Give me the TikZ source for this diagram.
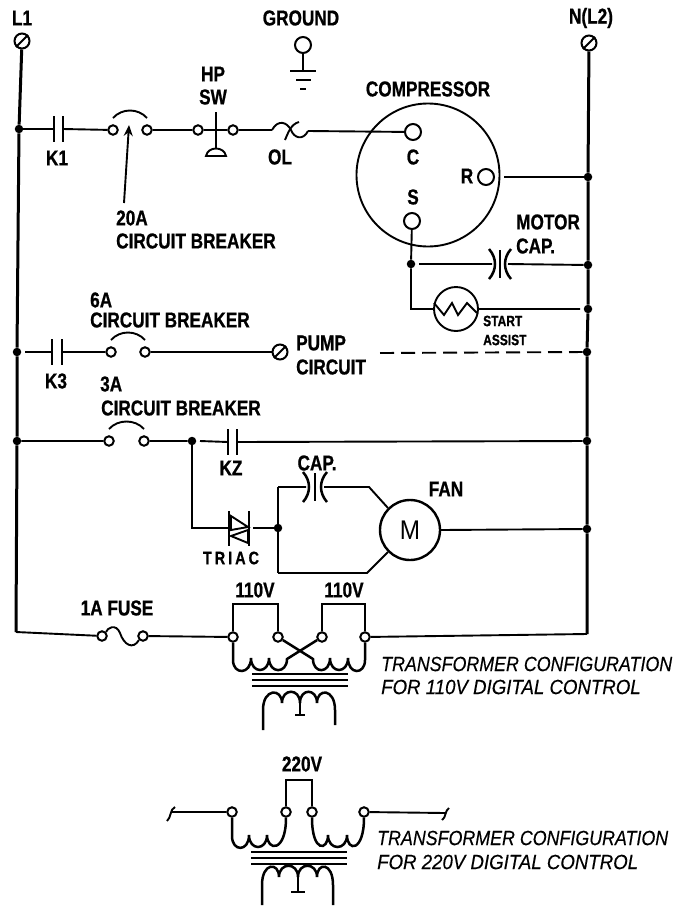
\documentclass[tikz,border=0pt]{standalone}
\usepackage{fontspec}
\setmainfont{Liberation Sans}
\newfontfamily\lblfamily[FakeStretch=0.80,FakeBold=0.8]{Liberation Sans Bold}
\newfontfamily\notefamily[FakeStretch=0.87,FakeBold=0.3]{Liberation Sans Italic}
\newfontfamily\widefamily[FakeStretch=0.91,FakeBold=0.3]{Liberation Sans Italic}
\newfontfamily\motorfamily[FakeStretch=0.9]{Liberation Sans}
\usetikzlibrary{calc,arrows.meta}
\tikzset{
    wire/.style={line width=1.9pt},
    rail/.style={line width=3pt},
    plate/.style={line width=2.5pt},
    term/.style={circle,draw,line width=2pt,fill=white,minimum size=9.5pt,inner sep=0pt},
    bigterm/.style={term,minimum size=15pt},
    dot/.style={circle,fill,minimum size=8.5pt,inner sep=0pt},
    lbl/.style={font=\lblfamily\fontsize{21.5}{24}\selectfont,inner sep=0pt},
    note/.style={font=\notefamily\fontsize{20.5}{22}\selectfont,inner sep=0pt,anchor=west},
    widenote/.style={note,font=\widefamily\fontsize{20.5}{22}\selectfont}
}
\newcommand{\breaker}[2]{\draw[wire] ($(#1)+(0,-12)$) .. controls +(9,-10) and +(-9,-10) .. ($(#2)+(0,-12)$);}
\newcommand{\contact}[4]{
    \coordinate (#1a) at (#2,#4);
    \coordinate (#1b) at (#3,#4);
    \draw[plate] (#2,#4-13) -- (#2,#4+13);
    \draw[plate] (#3,#4-13) -- (#3,#4+13);
}
\newcommand{\polar}[4]{
    \coordinate (#1a) at (#2,#4);
    \coordinate (#1b) at (#3,#4);
    \pgfmathsetmacro{\midx}{(#2+#3)/2}
    \draw[plate] (\midx,#4-14) -- (\midx,#4+14);
    \draw[plate] (#2-3,#4-15) .. controls (#2+5,#4-6) and (#2+5,#4+6) .. (#2-3,#4+15);
    \draw[plate] (#3+3,#4-15) .. controls (#3-5,#4-6) and (#3-5,#4+6) .. (#3+3,#4+15);
}
\begin{document}
\begin{tikzpicture}[x=1pt,y=-1pt]
    \useasboundingbox (0,0) rectangle (673,908);
    \fill[white] (0,0) rectangle (673,908);
    % rails
    \node[bigterm] (l1) at (22,41) {};
    \node[bigterm] (l2) at (589,43) {};
    \draw (l1.south west) [wire] -- (l1.north east);
    \draw (l2.south west) [wire] -- (l2.north east);
    \node[lbl] (l1lbl) at (22,18) {L1};
    \node[lbl] (l2lbl) at (591,18) {N(L2)};
    \node[dot] (da) at (19,129) {};
    \node[dot] (db) at (17,352) {};
    \node[dot] (dc) at (17,441) {};
    \coordinate (dd) at (16,632);
    \node[dot] (ra) at (588,177) {};
    \node[dot] (rb) at (588,265) {};
    \node[dot] (rc) at (588,309) {};
    \node[dot] (rd) at (587,352) {};
    \node[dot] (re) at (587,441) {};
    \node[dot] (rf) at (587,529) {};
    \coordinate (rg) at (587,634);
    \draw[rail] (l1) -- (da) -- (db) -- (dc) -- (dd);
    \draw[rail] (l2) -- (ra) -- (rb) -- (rc) -- (rd) -- (re) -- (rf) -- (rg);
    % ground
    \node[lbl] (gndlbl) at (301,18) {GROUND};
    \node[term,minimum size=16pt] (gnd) at (303,45) {};
    \coordinate (gndb) at (303,71);
    \draw[wire] (gnd) -- (gndb);
    \draw[plate] (290,71) -- (316,71);
    \draw[plate] (296,80) -- (311,80);
    \draw[plate] (300,89) -- (306,89);
    % compressor line
    \contact{ka}{54}{63}{129}
    \node[lbl] (kalbl) at (57,158) {K1};
    \node[term] (cba) at (113,130) {};
    \node[term] (cbb) at (147,130) {};
    \breaker{cba}{cbb}
    \node[term] (hpa) at (198,130) {};
    \node[term] (hpb) at (233,130) {};
    \coordinate (ola) at (272,130);
    \coordinate (olb) at (308,131);
    \draw[wire] (da) -- (kaa);
    \draw[wire] (kab) -- (cba);
    \draw[wire] (cbb) -- (hpa);
    \draw[wire] (hpa) -- (hpb);
    \draw[wire] (hpb) -- (ola);
    \draw[wire] (216,112) -- (216,150);
    \draw[wire,fill=white] (206,156) .. controls (208,146) and (224,146) .. (226,156) -- cycle;
    \draw[wire] (ola) .. controls (278,119) and (287,122) .. (291,130) .. controls (294,138) and (303,141) .. (olb);
    \draw[wire] (299,122) .. controls (291,124) and (288,133) .. (285,140);
    \node[lbl] (hplbl) at (213,74) {HP};
    \node[lbl] (swlbl) at (213,97) {SW};
    \node[lbl] (ollbl) at (280,157) {OL};
    \node[lbl,anchor=west] (cbalbl) at (116,218) {20A};
    \node[lbl,anchor=west] (cbblbl) at (116,241) {CIRCUIT BREAKER};
    \coordinate (cbtip) at (129,125);
    \coordinate (cbtail) at (124,203);
    \draw[wire,-{Stealth[length=11pt,width=9pt]}] (cbtail) -- (cbtip);
    % compressor
    \node[circle,draw,wire,minimum size=143pt,inner sep=0pt] (comp) at (428,175) {};
    \node[lbl] (complbl) at (428,89) {COMPRESSOR};
    \node[term,minimum size=16pt] (cc) at (413,132) {};
    \node[term,minimum size=16pt] (cr) at (486,177) {};
    \node[term,minimum size=16pt] (cs) at (412,221) {};
    \node[lbl] (cclbl) at (413,157) {C};
    \node[lbl] (crlbl) at (467,176) {R};
    \node[lbl] (cslbl) at (413,197) {S};
    \draw[wire] (olb) -- (cc);
    \coordinate (crout) at (504,177);
    \draw[wire] (crout) -- (ra);
    \node[dot] (sa) at (411,264) {};
    \coordinate (sb) at (411,309);
    \node[circle,draw,wire,minimum size=44pt,inner sep=0pt] (assist) at (456,309) {};
    \coordinate (sc) at (580,309);
    \draw[wire] (cs) -- (sa) -- (sb) -- (assist) (assist) -- (sc);
    \draw[wire] (434,303) -- (444,315) -- (452,303) -- (458,315) -- (467,303) -- (477,313);
    \coordinate (mcs) at (419,264);
    \polar{mc}{492}{508}{264}
    \draw[wire] (mcs) -- (mca) (mcb) -- (rb);
    \node[lbl,anchor=west] (mclbla) at (516,222) {MOTOR};
    \node[lbl,anchor=west] (mclblb) at (516,246) {CAP.};
    \node[lbl,anchor=west,font=\lblfamily\fontsize{15}{17}\selectfont] (salbla) at (483,321) {START};
    \node[lbl,anchor=west,font=\lblfamily\fontsize{15}{17}\selectfont] (salblb) at (483,340) {ASSIST};
    % pump line
    \contact{kb}{52}{62}{352}
    \node[lbl] (kblbl) at (56,381) {K3};
    \node[term] (cbc) at (111,352) {};
    \node[term] (cbd) at (145,352) {};
    \breaker{cbc}{cbd}
    \node[bigterm] (pump) at (280,352) {};
    \draw[wire] (pump.south west) -- (pump.north east);
    \coordinate (kbt) at (25,352);
    \draw[wire] (kbt) -- (kba) (kbb) -- (cbc) (cbd) -- (pump);
    \coordinate (dsh) at (380,353);
    \draw[wire,dash pattern=on 14pt off 7pt] (dsh) -- (rd);
    \node[lbl,anchor=west] (cbclbl) at (90,300) {6A};
    \node[lbl,anchor=west] (cbdlbl) at (90,320) {CIRCUIT BREAKER};
    \node[lbl,anchor=west] (pumplbl) at (296,343) {PUMP};
    \node[lbl,anchor=west] (cirlbl) at (296,367) {CIRCUIT};
    % fan line
    \node[term] (cbe) at (109,441) {};
    \node[term] (cbf) at (144,441) {};
    \breaker{cbe}{cbf}
    \node[dot] (fa) at (192,441) {};
    \contact{kc}{228}{237}{442}
    \coordinate (kct) at (200,441);
    \draw[wire] (dc) -- (cbe) (cbf) -- (fa) (kct) -- (kca) (kcb) -- (re);
    \node[lbl] (kclbl) at (231,468) {KZ};
    \node[lbl,anchor=west] (cbelbl) at (100,384) {3A};
    \node[lbl,anchor=west] (cbflbl) at (101,408) {CIRCUIT BREAKER};
    % triac
    \coordinate (tra) at (229,528);
    \coordinate (trb) at (253,528);
    \node[dot] (fb) at (278,528) {};
    \draw[wire] (fa) |- (tra) (trb) -- (fb);
    \draw[plate] (229,511) -- (229,546) (249,511) -- (249,546);
    \draw[wire] (231,516) -- (248,527) -- (231,530) -- cycle;
    \draw[wire] (248,530) -- (231,536) -- (248,543) -- cycle;
    \node[lbl,font=\lblfamily\fontsize{18}{20}\selectfont] (trlbl) at (231,558) {T\,R\,I\,A\,C};
    % fan
    \node[circle,draw,line width=2.4pt,minimum size=60pt,inner sep=0pt,font=\motorfamily\fontsize{27}{30}\selectfont] (fan) at (410,530) {M};
    \node[lbl] (fanlbl) at (446,489) {FAN};
    \polar{fc}{306}{324}{487}
    \node[lbl] (fclbl) at (317,463) {CAP.};
    \coordinate (fd) at (278,487);
    \coordinate (fe) at (278,573);
    \coordinate (ff) at (369,487);
    \coordinate (fg) at (367,573);
    \draw[plate] (fd) -- (fe);
    \draw[wire] (fd) -- (fca) (fcb) -- (ff) -- (fan.north west);
    \draw[wire] (fe) -- (fg) -- (fan.south west);
    \draw[wire] (fan.east) -- (rf);
    % 110V transformer
    \node[lbl] (fuselbl) at (117,608) {1A FUSE};
    \node[term] (fua) at (102,636) {};
    \node[term] (fub) at (143,636) {};
    \draw[wire] (dd) -- (fua);
    \draw[wire] (fua.north east) .. controls (107,628) and (116,623) .. (120,633) .. controls (124,645) and (133,650) .. (fub.south west);
    \node[term] (ta) at (233,637) {};
    \node[term] (tb) at (278,637) {};
    \node[term] (tc) at (322,637) {};
    \node[term] (td) at (365,637) {};
    \draw[wire] (fub) -- (ta) (td) -- (rg);
    \node[lbl] (talbl) at (255,590) {110V};
    \node[lbl] (tclbl) at (344,590) {110V};
    \draw[plate] (ta) -- (233,604) -- (278,604) -- (tb);
    \draw[plate] (tc) -- (322,604) -- (365,604) -- (td);
    \draw[plate] (ta) -- (233,660) .. controls (233,675) and (251,675) .. (251,658) .. controls (251,674) and (269,674) .. (269,658) .. controls (269,674) and (287,674) .. (287,659) -- (tc);
    \draw[plate] (tb) -- (313,659) .. controls (313,674) and (330,674) .. (330,658) .. controls (330,674) and (348,674) .. (348,658) .. controls (348,675) and (365,675) .. (365,660) -- (td);
    \foreach \y in {674,680,686} \draw[wire] (252,\y) -- (348,\y);
    \draw[plate] (263,730) -- (263,710) .. controls (263,688) and (282,688) .. (282,703) .. controls (282,688) and (300,688) .. (300,703) .. controls (300,688) and (317,688) .. (317,703) .. controls (317,688) and (335,688) .. (335,710) -- (335,725);
    \draw[plate] (300,703) -- (300,715);
    \draw[plate] (295,715) -- (305,715);
    \node[note] (nta) at (381,664) {TRANSFORMER CONFIGURATION};
    \node[widenote] (ntb) at (381,687) {FOR 110V DIGITAL CONTROL};
    % 220V transformer
    \node[lbl] (tlbl) at (302,764) {220V};
    \node[term] (te) at (232,812) {};
    \node[term] (tf) at (286,812) {};
    \node[term] (tg) at (312,812) {};
    \node[term] (th) at (364,812) {};
    \coordinate (tee) at (172,812);
    \coordinate (thh) at (445,813);
    \draw[wire] (tee) -- (te) (th) -- (thh);
    \draw[wire] (167,821) .. controls (171,818) and (170,809) .. (175,807);
    \draw[wire] (442,820) .. controls (446,818) and (445,810) .. (449,808);
    \draw[plate] (tf) -- (286,780) -- (312,780) -- (tg);
    \draw[plate] (te) -- (232,836) .. controls (232,852) and (249,852) .. (249,835) .. controls (249,851) and (267,851) .. (267,835) .. controls (267,851) and (286,853) .. (tf);
    \draw[plate] (tg) .. controls (312,853) and (328,851) .. (328,835) .. controls (328,851) and (347,851) .. (347,835) .. controls (347,852) and (364,852) .. (th);
    \foreach \y in {852,858,864} \draw[wire] (251,\y) -- (347,\y);
    \draw[plate] (262,905) -- (262,885) .. controls (262,862) and (279,862) .. (279,877) .. controls (279,862) and (298,862) .. (298,877) .. controls (298,862) and (317,862) .. (317,877) .. controls (317,862) and (333,862) .. (333,885) -- (333,905);
    \draw[plate] (298,877) -- (298,892);
    \draw[plate] (291,892) -- (305,892);
    \node[note] (ntc) at (377,838) {TRANSFORMER CONFIGURATION};
    \node[widenote] (ntd) at (377,862) {FOR 220V DIGITAL CONTROL};
\end{tikzpicture}
\end{document}
